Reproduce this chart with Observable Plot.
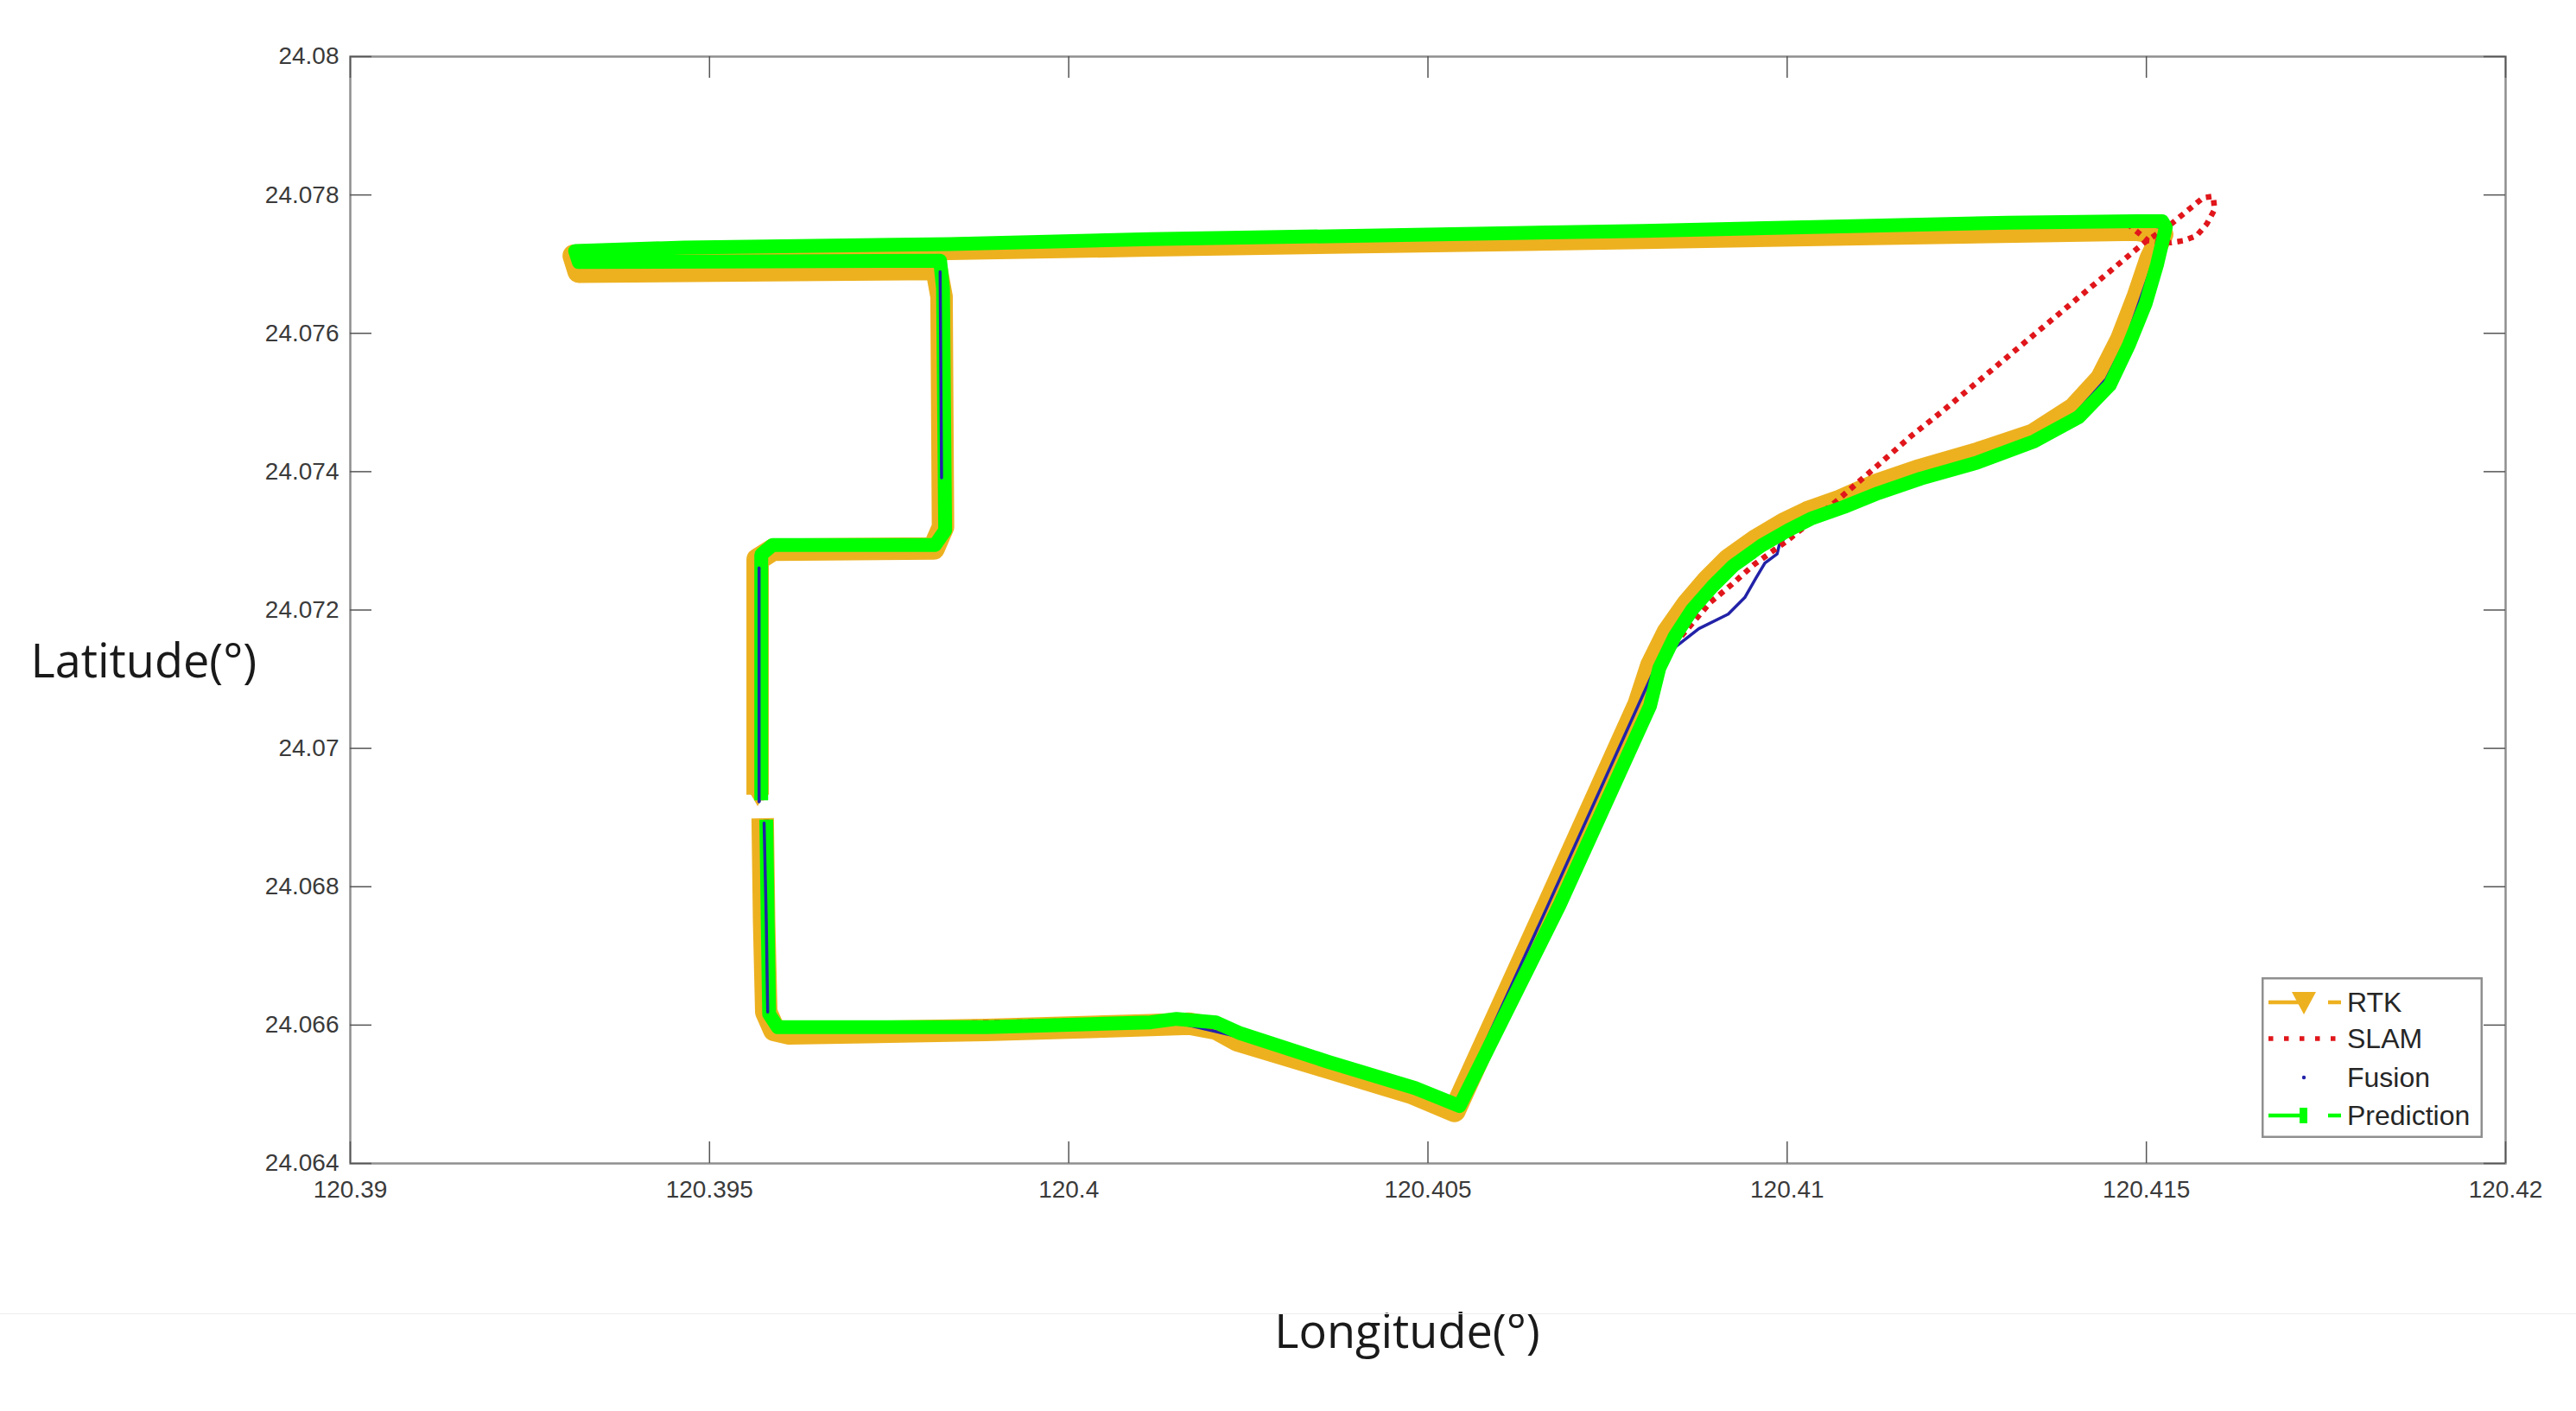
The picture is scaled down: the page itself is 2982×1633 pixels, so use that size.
<!DOCTYPE html>
<html>
<head>
<meta charset="utf-8">
<script src="https://cdn.jsdelivr.net/npm/d3@7"></script>
<script src="https://cdn.jsdelivr.net/npm/@observablehq/plot@0.6"></script>
<style>
  body { margin: 0; background: #fff; }
  #wrap { position: relative; width: 2982px; height: 1633px; overflow: hidden; background: #fff; }
  #legend { position: absolute; left: 2618px; top: 1131px; }
  #rule { position: absolute; left: 0; top: 1520px; width: 2982px; height: 0; border-top: 1px solid #ededed; }
</style>
</head>
<body>
<div id="wrap"><div id="rule"></div></div>
<script>
// ---- axis ticks ----
const xTicks = [120.39, 120.395, 120.4, 120.405, 120.41, 120.415, 120.42];
const yTicks = [24.064, 24.066, 24.068, 24.07, 24.072, 24.074, 24.076, 24.078, 24.08];
const xLabel = "Longitude(°)";
const yLabel = "Latitude(°)";
const seriesNames = ["RTK", "SLAM", "Fusion", "Prediction"];

// ---- RTK ----
const rtkLon = [120.39574,120.39576,120.39579,120.39590,120.39611,120.39885,120.40114,120.40168,120.40205,120.40235,
  120.40356,120.40477,120.40537,120.40667,120.40793,120.40811,120.40834,120.40861,120.40889,120.40919,
  120.40957,120.40996,120.41028,120.41074,120.41122,120.41181,120.41261,120.41342,120.41399,120.41437,
  120.41465,120.41488,120.41506,120.41522,120.41486,120.40800,120.40114,120.39835,120.39464,120.39311,
  120.39318,120.39816,120.39823,120.39825,120.39812,120.39588,120.39567,120.39567,120.39567];
const rtkLat = [24.06899,24.06750,24.06619,24.06593,24.06588,24.06593,24.06600,24.06602,24.06595,24.06578,
  24.06540,24.06502,24.06476,24.06773,24.07063,24.07120,24.07168,24.07208,24.07242,24.07273,
  24.07301,24.07325,24.07341,24.07358,24.07380,24.07401,24.07425,24.07453,24.07491,24.07534,
  24.07591,24.07653,24.07708,24.07743,24.07750,24.07738,24.07727,24.07722,24.07715,24.07712,
  24.07689,24.07693,24.07653,24.07320,24.07289,24.07287,24.07273,24.07082,24.06933];

// ---- SLAM ----
const slamLon = [120.39579,120.39583,120.39595,120.40150,120.40239,120.40544,120.40809,120.40832,120.40893,120.40923,
  120.40953,120.41001,120.41067,120.41127,120.41172,120.41218,120.41497,120.41531,120.41579,120.41593,
  120.41595,120.41584,120.41570,120.41552,120.41534,120.41502,120.41474,120.40800,120.40114,120.39835,
  120.39313,120.39318,120.39821,120.39828,120.39814,120.39588,120.39572,120.39572];
const slamLat = [24.06897,24.06616,24.06597,24.06609,24.06588,24.06483,24.07061,24.07137,24.07211,24.07237,
  24.07265,24.07301,24.07356,24.07410,24.07451,24.07489,24.07731,24.07755,24.07796,24.07798,
  24.07779,24.07758,24.07741,24.07734,24.07731,24.07734,24.07758,24.07748,24.07736,24.07729,
  24.07719,24.07703,24.07705,24.07315,24.07294,24.07294,24.07280,24.06925];

// ---- Fusion ----
const fusionLon = [120.39576,120.39579,120.39581,120.39592,120.39885,120.40150,120.40237,120.40479,120.40539,120.40667,
  120.40793,120.40818,120.40845,120.40877,120.40918,120.40941,120.40957,120.40969,120.40986,120.40989,
  120.41005,120.41033,120.41079,120.41127,120.41186,120.41264,120.41344,120.41403,120.41444,120.41472,
  120.41492,120.41511,120.41522,120.41486,120.40800,120.40114,120.39830,120.39313,120.39318,120.39819,
  120.39821,120.39823,120.39825,120.39812,120.39588,120.39569,120.39569,120.39569];
const fusionLat = [24.06892,24.06750,24.06619,24.06595,24.06595,24.06604,24.06583,24.06507,24.06481,24.06773,
  24.07063,24.07120,24.07147,24.07173,24.07194,24.07218,24.07247,24.07268,24.07281,24.07294,
  24.07315,24.07332,24.07349,24.07369,24.07390,24.07413,24.07444,24.07486,24.07534,24.07591,
  24.07651,24.07708,24.07753,24.07758,24.07746,24.07734,24.07727,24.07719,24.07703,24.07705,
  24.07689,24.07391,24.07315,24.07292,24.07292,24.07273,24.07261,24.06923];

// ---- Prediction ----
const predLon = [120.39579,120.39581,120.39583,120.39595,120.39885,120.40114,120.40150,120.40205,120.40239,120.40361,
  120.40482,120.40544,120.40683,120.40809,120.40822,120.40843,120.40868,120.40896,120.40925,120.40964,
  120.41001,120.41033,120.41079,120.41127,120.41186,120.41264,120.41344,120.41406,120.41449,120.41476,
  120.41499,120.41515,120.41527,120.41522,120.41486,120.41307,120.40800,120.40114,120.39835,120.39464,
  120.39313,120.39318,120.39821,120.39825,120.39828,120.39814,120.39588,120.39572,120.39572,120.39572];
const predLat = [24.06897,24.06750,24.06616,24.06597,24.06597,24.06604,24.06609,24.06604,24.06588,24.06547,
  24.06509,24.06483,24.06773,24.07061,24.07116,24.07161,24.07201,24.07234,24.07264,24.07293,
  24.07315,24.07332,24.07349,24.07369,24.07390,24.07413,24.07444,24.07479,24.07525,24.07584,
  24.07643,24.07700,24.07753,24.07762,24.07762,24.07760,24.07748,24.07736,24.07729,24.07724,
  24.07719,24.07703,24.07705,24.07665,24.07315,24.07294,24.07294,24.07280,24.07082,24.06925];

const toRows = (lons, lats) => lons.map((lon, i) => ({lon, lat: lats[i]}));
const rtk = toRows(rtkLon, rtkLat);
const slam = toRows(slamLon, slamLat);
const fusion = toRows(fusionLon, fusionLat);
const pred = toRows(predLon, predLat);

// parts of the Fusion track that show through the Prediction band (slice ranges)
const fusionShown = [[0, 3], [40, 42], [46, 48]];

const C = {rtk: "#EDB120", slam: "#E0161B", fusion: "#2222A8", pred: "#00FF00"};
const fmt = d => String(+d.toFixed(3));

const W = 2982, H = 1633, ML = 405, MR = 82, MT = 65, MB = 287;
const innerW = W - ML - MR, innerH = H - MT - MB;
const tickLen = 25;

const chart = Plot.plot({
  width: W, height: H,
  marginLeft: ML, marginRight: MR, marginTop: MT, marginBottom: MB,
  x: {domain: [120.39, 120.42]},
  y: {domain: [24.064, 24.08]},
  style: {fontFamily: '"Liberation Sans", Arial, sans-serif', fontSize: "28px", color: "#3a3a3a", background: "white"},
  marks: [
    Plot.line(rtk, {x: "lon", y: "lat", stroke: C.rtk, strokeWidth: 26, strokeLinejoin: "round", strokeLinecap: "butt"}),
    // 'v' marker closing the RTK track
    Plot.dot(rtk.slice(-1), {x: "lon", y: "lat", symbol: "triangle", rotate: 180, r: 8.5, fill: C.rtk, stroke: "none"}),
    Plot.line(fusion, {x: "lon", y: "lat", stroke: C.fusion, strokeWidth: 3.5, strokeLinejoin: "round"}),
    Plot.line(slam, {x: "lon", y: "lat", stroke: C.slam, strokeWidth: 6.5, strokeDasharray: "6.5,6.5", strokeLinecap: "butt"}),
    Plot.line(pred, {x: "lon", y: "lat", stroke: C.pred, strokeWidth: 16, strokeLinejoin: "round", strokeLinecap: "butt"}),
    ...fusionShown.map(([a, b]) => Plot.line(fusion.slice(a, b), {x: "lon", y: "lat", stroke: C.fusion, strokeWidth: 3.5, strokeLinejoin: "round"})),
    Plot.frame({stroke: "#8f8f8f", strokeWidth: 2.5}),
    Plot.ruleX(xTicks, {x: d => d, insetTop: innerH - tickLen, stroke: "#555", strokeWidth: 1.5}),
    Plot.ruleX(xTicks, {x: d => d, insetBottom: innerH - tickLen, stroke: "#555", strokeWidth: 1.5}),
    Plot.ruleY(yTicks, {y: d => d, insetRight: innerW - tickLen, stroke: "#555", strokeWidth: 1.5}),
    Plot.ruleY(yTicks, {y: d => d, insetLeft: innerW - tickLen, stroke: "#555", strokeWidth: 1.5}),
    Plot.axisX({ticks: xTicks, tickSize: 0, tickPadding: 20, tickFormat: fmt, label: null, fill: "#3a3a3a"}),
    Plot.axisY({ticks: yTicks, tickSize: 0, tickPadding: 13, tickFormat: fmt, label: null, fill: "#3a3a3a"}),
    Plot.text([xLabel], {frameAnchor: "bottom", dx: -24, dy: 213, fontSize: 54, fontFamily: '"Open Sans", sans-serif', fill: "#1a1a1a", text: d => d}),
    Plot.text([yLabel], {frameAnchor: "left", textAnchor: "start", dx: -370, dy: 61, fontSize: 54, fontFamily: '"Open Sans", sans-serif', fill: "#1a1a1a", text: d => d})
  ]
});
document.getElementById("wrap").appendChild(chart);

// ---- legend ----
const LW = 256, LH = 186;
const leg = d3.select("#wrap").append("svg").attr("id", "legend")
  .attr("width", LW).attr("height", LH)
  .style("font-family", '"Liberation Sans", Arial, sans-serif').style("font-size", "32px");
leg.append("rect").attr("x", 1.25).attr("y", 1.25).attr("width", LW - 2.5).attr("height", LH - 2.5)
  .attr("fill", "#fff").attr("stroke", "#8f8f8f").attr("stroke-width", 2.5);
const rowY = [29, 71, 116, 160];
// RTK sample
leg.append("line").attr("x1", 8).attr("x2", 48).attr("y1", rowY[0]).attr("y2", rowY[0]).attr("stroke", C.rtk).attr("stroke-width", 4.5);
leg.append("path").attr("d", `M35,${rowY[0]-12}L63,${rowY[0]-12}L49,${rowY[0]+14}Z`).attr("fill", C.rtk);
leg.append("line").attr("x1", 77).attr("x2", 92).attr("y1", rowY[0]).attr("y2", rowY[0]).attr("stroke", C.rtk).attr("stroke-width", 4.5);
// SLAM sample
leg.append("line").attr("x1", 8).attr("x2", 92).attr("y1", rowY[1]).attr("y2", rowY[1]).attr("stroke", C.slam).attr("stroke-width", 5.5).attr("stroke-dasharray", "5.5,12.5");
// Fusion sample
leg.append("circle").attr("cx", 49).attr("cy", rowY[2]).attr("r", 2.2).attr("fill", C.fusion);
// Prediction sample
leg.append("line").attr("x1", 8).attr("x2", 45).attr("y1", rowY[3]).attr("y2", rowY[3]).attr("stroke", C.pred).attr("stroke-width", 4.5);
leg.append("rect").attr("x", 44).attr("y", rowY[3] - 9).attr("width", 9).attr("height", 18).attr("fill", C.pred);
leg.append("line").attr("x1", 77).attr("x2", 92).attr("y1", rowY[3]).attr("y2", rowY[3]).attr("stroke", C.pred).attr("stroke-width", 4.5);
seriesNames.forEach((name, i) => {
  leg.append("text").attr("x", 99).attr("y", rowY[i]).attr("dy", "0.35em").attr("fill", "#262626").text(name);
});
</script>
</body>
</html>
